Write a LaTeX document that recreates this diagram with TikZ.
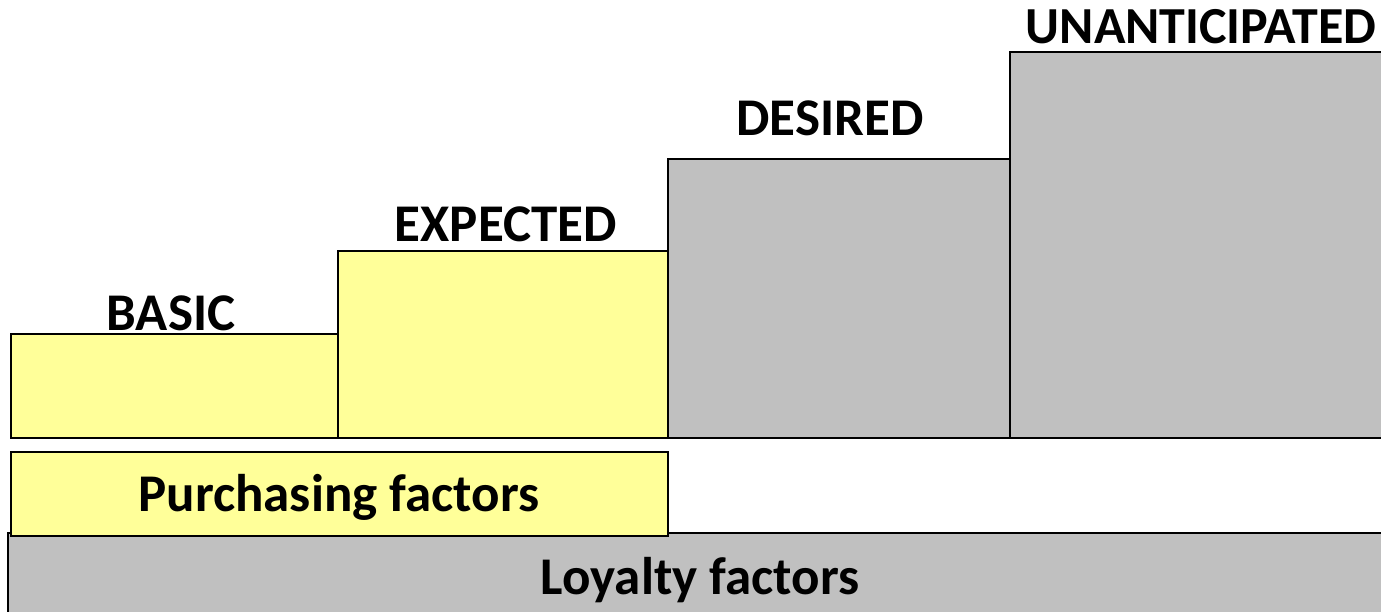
\documentclass[tikz,border=0pt]{standalone}
\usepackage{fontspec}
\setmainfont{Carlito}
\definecolor{ylw}{HTML}{FFFF99}
\definecolor{gry}{HTML}{C0C0C0}
\begin{document}
\begin{tikzpicture}[x=1pt,y=-1pt,
  box/.style={draw=black,line width=1.3pt},
  ybox/.style={box,fill=ylw},
  gbox/.style={box,fill=gry},
  lbl/.style={font=\fontsize{53}{60}\selectfont\bfseries,inner sep=0pt,anchor=base}]
\useasboundingbox (0,0) rectangle (1381,612);
\begin{scope}
\clip (0,0) rectangle (1381,612);
\draw[gbox] (8,533) rectangle (1400,640);
\draw[ybox] (11,452) rectangle (668,536);
\draw[ybox] (11,334) rectangle (338,438);
\draw[ybox] (338,251) rectangle (668,438);
\draw[gbox] (668,159) rectangle (1010,438);
\draw[gbox] (1010,52) rectangle (1400,438);
\end{scope}
\node[lbl] (basic) at (171,330) {BASIC};
\node[lbl] (expected) at (506,242) {EXPECTED};
\node[lbl] (desired) at (830,136) {DESIRED};
\node[lbl,font=\fontsize{52}{60}\selectfont\bfseries] (unant) at (1201,44) {UNANTICIPATED};
\node[lbl] (purch) at (339,511) {Purchasing factors};
\node[lbl] (loyal) at (700,594) {Loyalty factors};
\end{tikzpicture}
\end{document}
